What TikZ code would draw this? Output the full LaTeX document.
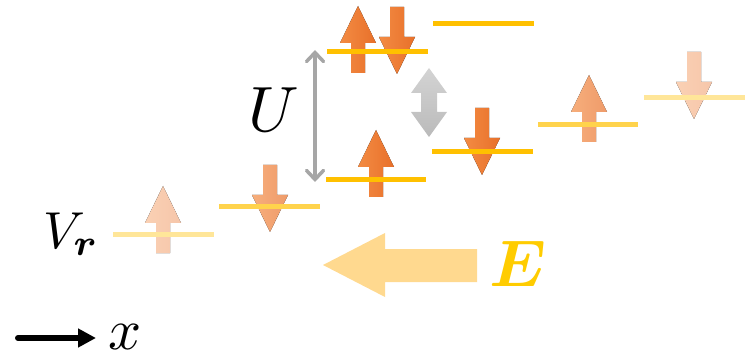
\documentclass[tikz,border=0pt]{standalone}
\usepackage{bm}
\usetikzlibrary{arrows.meta}
\definecolor{levelgold}{HTML}{FFC000}
\definecolor{spinlight}{HTML}{F38B43}
\definecolor{spindark}{HTML}{E8702A}
\definecolor{fieldgold}{HTML}{FFD98F}
\definecolor{fieldtext}{HTML}{FFCC00}
\definecolor{ugray}{HTML}{A6A6A6}
\newcommand{\spinarrow}[4][100]{%
  \fill[left color=spinlight!#1!white,right color=spindark!#1!white] (#2,#3) ++(-7,0) -- ++(14,0) -- ++(0,{-30*(#4)}) -- ++(11,0)
    -- ++(-18,{-37*(#4)}) -- ++(-18,{37*(#4)}) -- ++(11,0) -- cycle;}

\begin{document}
\begin{tikzpicture}[x=1pt,y=-1pt,
  level/.style={line width=5pt,levelgold!#1!white},
  level/.default=100]
\useasboundingbox (0,0) rectangle (746,355);
\spinarrow[40]{163}{253}{1}
\spinarrow[70]{270}{165}{-1}
\spinarrow{376}{197}{1}
\spinarrow{358}{73}{1}
\spinarrow{397}{7}{-1}
\spinarrow{482}{108}{-1}
\spinarrow[70]{589}{142}{1}
\spinarrow[40]{694}{52}{-1}
\draw[level=40] (113,235)--(214,235);
\draw[level=70] (219,207)--(320,207);
\draw[level] (326,180)--(426,180);
\draw[level] (327,52)--(428,52);
\draw[level] (432,152)--(533,152);
\draw[level] (433,24)--(534,24);
\draw[level=70] (538,125)--(638,125);
\draw[level=40] (644,98)--(745,98);
\coordinate (Utop) at (315,50);
\coordinate (Ubot) at (315,182);
\draw[ugray,line width=3.5pt,line cap=round,{Straight Barb[length=9pt,width=17pt,line cap=round]}-{Straight Barb[length=9pt,width=17pt,line cap=round]}] (Utop)--(Ubot);
\node[anchor=base,inner sep=0,scale=6.4] (U) at (274,132) {$U$};
\shade[top color=black!17,bottom color=black!27] (429,68) -- ++(18,25) -- ++(-10,0) -- ++(0,19) -- ++(10,0)
  -- ++(-18,25) -- ++(-18,-25) -- ++(10,0) -- ++(0,-19) -- ++(-10,0) -- cycle;
\fill[fieldgold] (323,265) -- ++(62,-32) -- ++(0,16) -- ++(92,0) -- ++(0,33) -- ++(-92,0) -- ++(0,15) -- cycle;
\node[anchor=base,inner sep=0,fieldtext,scale=6.6] (E) at (518,286) {$\bm{E}$};
\node[anchor=base west,inner sep=0,scale=5.2] (V) at (42,248) {$V_{\bm{r}}$};
\node[anchor=base west,inner sep=0,scale=5.8] (xlab) at (107,349) {$x$};
\coordinate (xstart) at (18,338);
\draw[line width=6pt,line cap=round,-{Triangle[length=18pt,width=18pt]},shorten >=11pt] (xstart)--(xstart-|xlab.west);
\end{tikzpicture}
\end{document}
